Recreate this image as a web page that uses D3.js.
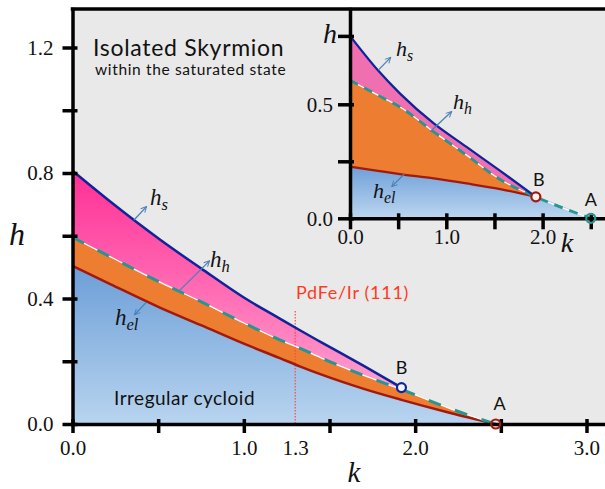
<!DOCTYPE html>
<html>
<head>
<meta charset="utf-8">
<script src="https://cdn.jsdelivr.net/npm/d3@7"></script>
<style>
  body { margin: 0; background: #fff; }
  svg { display: block; }
</style>
</head>
<body>
<svg id="chart" width="605" height="489"></svg>
<script>
// ---- main diagram (k, h) ----
const mainK   = [0, 0.22, 0.51, 0.75, 1.0, 1.21, 1.33, 1.45, 1.7, 1.92, 2.2, 2.47];
const mainHs  = [0.807, 0.709, 0.588, 0.496, 0.403, 0.336, 0.298, 0.261, 0.185, 0.116, null, null];
const mainHh  = [0.595, 0.533, 0.452, 0.39, 0.322, 0.268, 0.241, 0.211, 0.155, 0.11, 0.05, 0];
const mainHel = [0.504, 0.446, 0.371, 0.315, 0.256, 0.21, 0.183, 0.158, 0.112, 0.077, 0.036, 0];
const mainPointB = [1.92, 0.116];
const mainPointA = [2.47, 0];
const pdfeK = 1.3;

const mainYTicks = [0, 0.2, 0.4, 0.6, 0.8, 1.0, 1.2];
const mainYLabels = [0, 0.4, 0.8, 1.2];
const mainXTicks = [0, 0.5, 1.0, 1.3, 1.5, 2.0, 2.5, 3.0];
const mainXLabels = [0, 1.0, 1.3, 2.0, 3.0];

// ---- inset ----
const insetK   = [0, 0.29, 0.52, 0.87, 1.21, 1.56, 1.93, 2.5];
const insetHs  = [0.8, 0.649, 0.547, 0.416, 0.313, 0.208, 0.094, null];
const insetHh  = [0.605, 0.54, 0.488, 0.379, 0.277, 0.17, 0.094, 0];
const insetHel = [0.226, 0.208, 0.194, 0.175, 0.153, 0.128, 0.094, null];
const insetPointB = [1.93, 0.094];
const insetPointA = [2.5, 0];

const insetYTicks = [0, 0.25, 0.5, 0.8];
const insetYLabels = [0, 0.5];
const insetXTicks = [0, 0.5, 1.0, 1.5, 2.0, 2.5];
const insetXLabels = [0, 1.0, 2.0];

const SERIF = "'Liberation Serif', 'Times New Roman', serif";
const SANS = "Lato, 'Open Sans', sans-serif";
const fmt = d3.format(".1f");

const svg = d3.select("#chart");
const defs = svg.append("defs");

const x = d3.scaleLinear().domain([0, 3.108]).range([72.5, 605]);
const y = d3.scaleLinear().domain([0, 1.3227]).range([424, 9]);
const xi = d3.scaleLinear().domain([0, 2.648]).range([350, 605]);
const yi = d3.scaleLinear().domain([0, 0.918]).range([218.3, 9]);

function grad(id, y1, y2, c1, c2) {
  const g = defs.append("linearGradient").attr("id", id)
    .attr("gradientUnits", "userSpaceOnUse")
    .attr("x1", 0).attr("x2", 0).attr("y1", y1).attr("y2", y2);
  g.append("stop").attr("offset", 0).attr("stop-color", c1);
  g.append("stop").attr("offset", 1).attr("stop-color", c2);
}
grad("blueMain", y(0.5), y(0), "#6d9fd8", "#b8d4ef");
grad("pinkMain", y(0.8), y(0.12), "#ff3096", "#ff9dcd");
grad("blueInset", yi(0.23), yi(0), "#6e9fd8", "#bcd6f0");

const arrowMarker = defs.append("marker").attr("id", "arr")
  .attr("viewBox", "0 0 10 10").attr("refX", 9).attr("refY", 5)
  .attr("markerWidth", 7).attr("markerHeight", 7).attr("orient", "auto-start-reverse")
  .attr("markerUnits", "userSpaceOnUse");
arrowMarker.append("path").attr("d", "M1,1L9,5L1,9").attr("fill", "none")
  .attr("stroke", "#4a80b8").attr("stroke-width", 1.4);

function drawPanel(g, sx, sy, K, Hs, Hh, Hel, opt) {
  const rows = K.map((k, i) => ({k, hs: Hs[i], hh: Hh[i], hel: Hel[i]}));
  const ax = d3.area().x(d => sx(d.k)).curve(d3.curveMonotoneX);
  // blue region below h_el (and below h_h past B)
  g.append("path")
    .attr("fill", opt.blue)
    .attr("d", ax.y0(sy(0)).y1(d => sy(d.hel != null ? d.hel : d.hh))(rows));
  // orange region between h_el and h_h
  const orangeRows = rows.filter(d => d.hel != null);
  g.append("path")
    .attr("fill", "#ed7d31")
    .attr("d", d3.area().x(d => sx(d.k)).y0(d => sy(d.hel)).y1(d => sy(d.hh))
      .curve(d3.curveMonotoneX)(orangeRows));
  // pink region between h_h and h_s
  const pinkRows = rows.filter(d => d.hs != null);
  g.append("path")
    .attr("fill", opt.pink)
    .attr("d", d3.area().x(d => sx(d.k)).y0(d => sy(d.hh)).y1(d => sy(d.hs))
      .curve(d3.curveMonotoneX)(pinkRows));
  if (opt.extra) opt.extra(g);

  const line = (key, data) => d3.line().x(d => sx(d.k)).y(d => sy(d[key]))
    .curve(d3.curveMonotoneX)(data);
  g.append("path").attr("fill", "none").attr("stroke", "#a3190c")
    .attr("stroke-width", opt.lw).attr("d", line("hel", orangeRows));
  g.append("path").attr("fill", "none").attr("stroke", "#ffffff")
    .attr("stroke-width", 1.3).attr("d", line("hh", rows));
  g.append("path").attr("fill", "none").attr("stroke", "#26968e")
    .attr("stroke-width", opt.lw + 0.5).attr("stroke-dasharray", opt.dash)
    .attr("d", line("hh", rows));
  g.append("path").attr("fill", "none").attr("stroke", "#10249a")
    .attr("stroke-width", opt.lw).attr("d", line("hs", pinkRows));
}

// main background
svg.append("rect").attr("x", x(0)).attr("y", y(1.3227))
  .attr("width", x(3.108) - x(0)).attr("height", y(0) - y(1.3227)).attr("fill", "#e9e9e9");

const mainG = svg.append("g");
drawPanel(mainG, x, y, mainK, mainHs, mainHh, mainHel, {
  blue: "url(#blueMain)", pink: "url(#pinkMain)", lw: 2.5, dash: "13,15",
  extra: g => g.append("line")
    .attr("x1", x(pdfeK)).attr("x2", x(pdfeK)).attr("y1", y(0.36)).attr("y2", y(0))
    .attr("stroke", "#ff4a4a").attr("stroke-width", 1.2).attr("stroke-dasharray", "1.5,1.5")
});

function arrow(g, sx, sy, a, b) {
  g.append("line").attr("x1", sx(a[0])).attr("y1", sy(a[1]))
    .attr("x2", sx(b[0])).attr("y2", sy(b[1]))
    .attr("stroke", "#4a80b8").attr("stroke-width", 1.3)
    .attr("marker-end", "url(#arr)");
}
arrow(mainG, x, y, [0.359, 0.65], [0.432, 0.693]);
arrow(mainG, x, y, [0.618, 0.422], [0.80, 0.52]);
arrow(mainG, x, y, [0.429, 0.387], [0.362, 0.348]);

function hLabel(g, px, py, sub, size) {
  const t = g.append("text").attr("x", px).attr("y", py)
    .attr("font-family", SERIF).attr("font-style", "italic")
    .attr("font-size", size).attr("fill", "#111");
  t.append("tspan").text("h");
  t.append("tspan").attr("dy", 5).attr("font-size", size * 0.72).text(sub);
}
hLabel(mainG, x(0.452), y(0.698), "s", 23);
hLabel(mainG, x(0.803), y(0.50), "h", 23);
hLabel(mainG, x(0.248), y(0.316), "el", 23);

// axes
function styleAxis(g, inner, vertical, size) {
  g.select(".domain").attr("stroke", "#000").attr("stroke-width", 3.5)
    .attr("stroke-linecap", "square");
  g.selectAll(".tick line").attr("stroke", "#000").attr("stroke-width", 3.5)
    .attr(vertical ? "x1" : "y1", vertical ? inner : -inner);
  g.selectAll(".tick text").attr("font-family", SERIF).attr("font-size", size).attr("fill", "#111");
}

const yAxisMain = svg.append("g").attr("transform", `translate(${x(0)},0)`)
  .call(d3.axisLeft(y).tickValues(mainYTicks).tickSizeInner(10).tickSizeOuter(0)
    .tickPadding(9).tickFormat(d => mainYLabels.includes(d) ? fmt(d) : ""));
styleAxis(yAxisMain, 5, true, 21);

const xAxisMain = svg.append("g").attr("transform", `translate(0,${y(0)})`)
  .call(d3.axisBottom(x).tickValues(mainXTicks).tickSizeInner(9).tickSizeOuter(0)
    .tickPadding(7).tickFormat(d => mainXLabels.includes(d) ? fmt(d) : ""));
styleAxis(xAxisMain, 5, false, 21);
xAxisMain.selectAll(".tick").filter(d => d === pdfeK).select("line").remove();

// points B and A on main
mainG.append("circle").attr("cx", x(mainPointB[0])).attr("cy", y(mainPointB[1])).attr("r", 4.5)
  .attr("fill", "#f4f4f8").attr("stroke", "#10249a").attr("stroke-width", 2.2);
svg.append("circle").attr("cx", x(mainPointA[0])).attr("cy", y(mainPointA[1])).attr("r", 4.5)
  .attr("fill", "none").attr("stroke", "#a3190c").attr("stroke-width", 2.2);

// main texts
function label(txt, px, py, size, opts = {}) {
  return svg.append("text").attr("x", px).attr("y", py)
    .attr("font-family", opts.family || SANS).attr("font-size", size)
    .attr("font-style", opts.italic ? "italic" : null)
    .attr("letter-spacing", opts.spacing || null)
    .attr("text-anchor", opts.anchor || "start")
    .attr("fill", opts.fill || "#111").text(txt);
}
label("Isolated Skyrmion", 93, 56, 23, {spacing: 0.7});
label("within the saturated state", 95, 75, 15.5, {spacing: 0.65});
label("Irregular cycloid", 114, 405, 19, {spacing: 0.5});
label("PdFe/Ir (111)", 296, 299, 18, {fill: "#ff3b1f", spacing: 0.7});
label("B", x(mainPointB[0]), 374, 18, {anchor: "middle"});
label("A", x(mainPointA[0]) + 4, 410, 18, {anchor: "middle"});
label("h", 17, 245, 32, {family: SERIF, italic: true, anchor: "middle"});
label("k", 354, 482, 29, {family: SERIF, italic: true, anchor: "middle"});

// ---- inset ----
svg.append("rect").attr("x", xi(0)).attr("y", yi(0.918))
  .attr("width", xi(2.648) - xi(0)).attr("height", yi(0) - yi(0.918)).attr("fill", "#e9e9e9");
const insetG = svg.append("g");
drawPanel(insetG, xi, yi, insetK, insetHs, insetHh, insetHel, {
  blue: "url(#blueInset)", pink: "#f06fb1", lw: 2.3, dash: "9,7"
});
arrow(insetG, xi, yi, [0.294, 0.65], [0.423, 0.706]);
arrow(insetG, xi, yi, [0.831, 0.38], [1.056, 0.468]);
arrow(insetG, xi, yi, [0.564, 0.194], [0.433, 0.139]);
hLabel(insetG, xi(0.477), yi(0.712), "s", 22);
hLabel(insetG, xi(1.07), yi(0.48), "h", 22);
hLabel(insetG, xi(0.239), yi(0.089), "el", 22);

const yAxisInset = svg.append("g").attr("transform", `translate(${xi(0)},0)`)
  .call(d3.axisLeft(yi).tickValues(insetYTicks).tickSizeInner(12).tickSizeOuter(0)
    .tickPadding(5).tickFormat(d => insetYLabels.includes(d) ? fmt(d) : ""));
styleAxis(yAxisInset, 4, true, 21);

const xAxisInset = svg.append("g").attr("transform", `translate(0,${yi(0)})`)
  .call(d3.axisBottom(xi).tickValues(insetXTicks).tickSizeInner(11).tickSizeOuter(0)
    .tickPadding(0).tickFormat(d => insetXLabels.includes(d) ? fmt(d) : ""));
styleAxis(xAxisInset, 5, false, 21);

insetG.append("circle").attr("cx", xi(insetPointB[0])).attr("cy", yi(insetPointB[1])).attr("r", 4.5)
  .attr("fill", "#f4f4f4").attr("stroke", "#a3190c").attr("stroke-width", 2.2);
svg.append("circle").attr("cx", xi(insetPointA[0])).attr("cy", yi(insetPointA[1])).attr("r", 4.5)
  .attr("fill", "none").attr("stroke", "#26968e").attr("stroke-width", 2.2);

label("B", xi(insetPointB[0]) + 3, 186, 18, {anchor: "middle"});
label("A", xi(insetPointA[0]), 206, 18, {anchor: "middle"});
label("h", 337, 43, 28, {family: SERIF, italic: true, anchor: "end"});
label("k", 567, 252, 28, {family: SERIF, italic: true, anchor: "middle"});

// top frame line
svg.append("line").attr("x1", x(0) - 1.75).attr("x2", 605).attr("y1", y(1.3227)).attr("y2", y(1.3227))
  .attr("stroke", "#000").attr("stroke-width", 3.5);
</script>
</body>
</html>
